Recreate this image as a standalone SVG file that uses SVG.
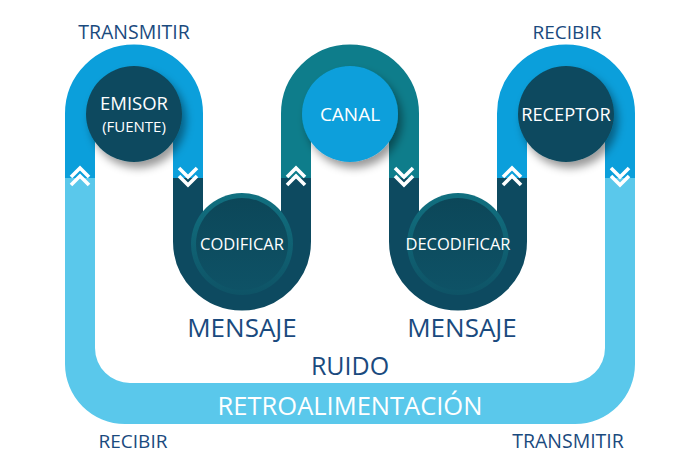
<svg xmlns="http://www.w3.org/2000/svg" width="700" height="473" viewBox="0 0 700 473">
<defs>
<style>
.lbl{font-family:"Open Sans","Noto Sans","Liberation Sans",sans-serif;fill:#1a4a7e;text-anchor:middle}
.wt{font-family:"Open Sans","Noto Sans","Liberation Sans",sans-serif;fill:#ffffff;text-anchor:middle}
.trk{fill:none;stroke-width:30;stroke-linecap:butt}
.chev{fill:none;stroke:#ffffff;stroke-width:3.6;stroke-linejoin:miter;stroke-linecap:butt}
</style>
<filter id="sh" x="-30%" y="-30%" width="170%" height="170%">
<feDropShadow dx="4" dy="6" stdDeviation="4" flood-color="#000" flood-opacity="0.4"/>
</filter>
<linearGradient id="rim" x1="0" y1="0" x2="0" y2="1">
<stop offset="0" stop-color="#117080"/>
<stop offset="1" stop-color="#0e5366"/>
</linearGradient>
<linearGradient id="disc" x1="0" y1="0" x2="0" y2="1">
<stop offset="0" stop-color="#0c4759"/>
<stop offset="1" stop-color="#0e5266"/>
</linearGradient>
<g id="up"><path class="chev" d="M-9,9 L0,0 L9,9 M-9,17 L0,8 L9,17"/></g>
<g id="dn"><path class="chev" d="M-9,0 L0,9 L9,0 M-9,8 L0,17 L9,8"/></g>
</defs>
<rect width="700" height="473" fill="#ffffff"/>

<g id="connectors">
<path id="feedback" d="M65,178 V364 A60,60 0 0 0 125,424 H575 A60,60 0 0 0 635,364 V178 H605 V348 A35,35 0 0 1 570,383 H130 A35,35 0 0 1 95,348 V178 Z" fill="#5ac8eb"/>
<path class="trk" stroke="#0d4a60" d="M188,178 L188,241.5 A54,54 0 0 0 296,241.5 L296,178"/>
<path class="trk" stroke="#0d4a60" d="M404,178 L404,241.5 A54,54 0 0 0 512,241.5 L512,178"/>
<path class="trk" stroke="#0b9fdb" d="M80,178 L80,113.5 A54,54 0 0 1 188,113.5 L188,178"/>
<path class="trk" stroke="#0e7d8b" d="M296,178 L296,113.5 A54,54 0 0 1 404,113.5 L404,178"/>
<path class="trk" stroke="#0b9fdb" d="M512,178 L512,113.5 A54,54 0 0 1 620,113.5 L620,178"/>
<use href="#up" x="80" y="168"/>
<use href="#dn" x="188" y="168"/>
<use href="#up" x="296" y="168"/>
<use href="#dn" x="404" y="168"/>
<use href="#up" x="512" y="168"/>
<use href="#dn" x="620" y="168"/>
</g>

<g id="emisor">
<circle cx="134" cy="114" r="48" fill="#0c4a5e" filter="url(#sh)"/>
<text class="wt" x="134" y="110" font-size="18.5">EMISOR</text>
<text class="wt" x="134" y="132" font-size="15">(FUENTE)</text>
</g>

<g id="codificar">
<circle cx="242" cy="244" r="51" fill="url(#rim)"/>
<circle cx="242" cy="244" r="46" fill="url(#disc)"/>
<text class="wt" x="242" y="250" font-size="16.5">CODIFICAR</text>
</g>

<g id="canal">
<circle cx="350" cy="114" r="48" fill="#0b9fdb" filter="url(#sh)"/>
<text class="wt" x="350" y="121" font-size="19">CANAL</text>
</g>

<g id="decodificar">
<circle cx="458" cy="244" r="51" fill="url(#rim)"/>
<circle cx="458" cy="244" r="46" fill="url(#disc)"/>
<text class="wt" x="458" y="250" font-size="16.5">DECODIFICAR</text>
</g>

<g id="receptor">
<circle cx="566" cy="114" r="48" fill="#0c4a5e" filter="url(#sh)"/>
<text class="wt" x="566" y="121" font-size="18.3">RECEPTOR</text>
</g>

<g id="labels">
<text class="lbl" x="134" y="38.5" font-size="19.5">TRANSMITIR</text>
<text class="lbl" x="567" y="38.5" font-size="19">RECIBIR</text>
<text class="lbl" x="242" y="337" font-size="26">MENSAJE</text>
<text class="lbl" x="462" y="337" font-size="26">MENSAJE</text>
<text class="lbl" x="350" y="375" font-size="25">RUIDO</text>
<text class="wt" x="350" y="415" font-size="25.5">RETROALIMENTACIÓN</text>
<text class="lbl" x="133" y="448" font-size="19">RECIBIR</text>
<text class="lbl" x="568" y="448" font-size="19.5">TRANSMITIR</text>
</g>
</svg>
